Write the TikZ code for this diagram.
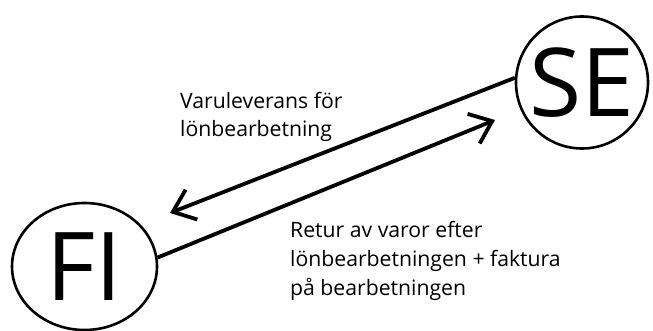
\documentclass[tikz,border=0pt]{standalone}
\usepackage{fontspec}
\setmainfont{Open Sans}
\usetikzlibrary{arrows.meta,shapes.geometric}
\begin{document}
\begin{tikzpicture}[x=1pt,y=-1pt,
  country/.style={draw, line width=2.6pt, inner sep=0pt, font=\fontsize{95}{95}\selectfont},
  flow/.style={line width=3.8pt, -{Straight Barb[length=20pt,width=32pt,line width=3.8pt]}},
  lbl/.style={align=left, anchor=base west, inner sep=0pt, font=\fontsize{21.2}{28.8}\selectfont}]
\useasboundingbox (0,0) rectangle (653,331);
\node[country, ellipse, minimum width=145pt, minimum height=127pt] (FI) at (84.5,266.5) {FI};
\node[country, circle, minimum size=132pt] (SE) at (582,82.5) {SE};
\coordinate (tipFI) at (170,213);
\coordinate (tipSE) at (495,120);
\draw[flow] (SE.176) -- (tipFI);
\draw[flow] (FI.7) -- (tipSE);
\node[lbl] (l1) at (180,137) {Varuleverans för\\lönbearbetning};
\node[lbl] (l2) at (290,295) {Retur av varor efter\\lönbearbetningen + faktura\\på bearbetningen};
\end{tikzpicture}
\end{document}
